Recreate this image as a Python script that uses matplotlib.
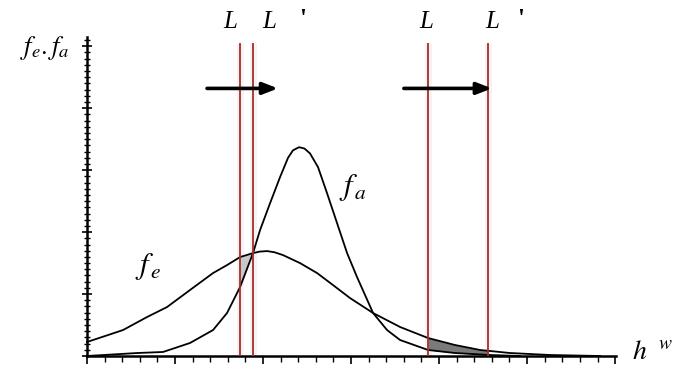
import numpy as np
import matplotlib
matplotlib.use("Agg")
import matplotlib.pyplot as plt

plt.rcParams['mathtext.fontset'] = 'stix'
plt.rcParams['font.family'] = ['Liberation Serif', 'DejaVu Serif']

# ---- data ----
fe_x = [0.0, 0.20, 0.409, 0.682, 0.909, 1.170, 1.432, 1.591, 1.739, 1.886, 1.96, 2.045,
        2.13, 2.227, 2.420, 2.614, 2.795, 2.989, 3.250, 3.557, 3.875, 4.182, 4.466,
        4.807, 5.261, 5.83]
fe_y = [0.226, 0.32, 0.419, 0.629, 0.790, 1.065, 1.339, 1.468, 1.597, 1.661, 1.685, 1.694,
        1.675, 1.629, 1.500, 1.339, 1.145, 0.935, 0.694, 0.468, 0.290, 0.177, 0.097,
        0.048, 0.016, 0.0]

fa_x = [0.0, 0.568, 0.864, 1.170, 1.432, 1.591, 1.739, 1.886, 1.966, 2.080, 2.193,
        2.284, 2.34, 2.409, 2.47, 2.534, 2.625, 2.727, 2.841, 2.955, 3.068, 3.250,
        3.409, 3.557, 3.875, 4.182, 4.580, 4.92]
fa_y = [0.0, 0.048, 0.065, 0.210, 0.419, 0.694, 1.113, 1.661, 2.032, 2.468, 2.887,
        3.200, 3.320, 3.371, 3.350, 3.270, 3.048, 2.629, 2.145, 1.661, 1.274, 0.694,
        0.419, 0.258, 0.097, 0.048, 0.016, 0.0]

L_old = [1.739, 3.875]
L_new = [1.886, 4.557]
arrow_start = [1.364, 3.60]
arrow_end = [2.17, 4.60]
arrow_y = 4.32

fig = plt.figure(figsize=(6.86, 3.73), dpi=100)
ax = fig.add_axes([87/686, 17/373, (616-87)/686, (356-37)/373])
ax.set_xlim(0, 6.01)
ax.set_ylim(0, 5.15)

for s in ['top', 'right']:
    ax.spines[s].set_visible(False)
for s in ['left', 'bottom']:
    ax.spines[s].set_linewidth(1.8)

ax.set_xticks(np.arange(0, 6.01, 1.0))
ax.set_xticks(np.arange(0, 6.01, 0.2), minor=True)
ax.set_yticks(np.arange(0, 5.15, 1.0))
ax.set_yticks(np.arange(0, 5.15, 0.1), minor=True)
ax.set_xticklabels([])
ax.set_yticklabels([])
ax.tick_params(axis='x', which='major', direction='out', length=6, width=1.2)
ax.tick_params(axis='x', which='minor', direction='out', length=4, width=1.0)
ax.tick_params(axis='y', which='major', direction='inout', length=7, width=1.2)
ax.tick_params(axis='y', which='minor', direction='inout', length=5, width=1.0)

# shaded regions between curves
g1 = np.linspace(L_old[0], L_new[0], 30)
ax.fill_between(g1, np.interp(g1, fa_x, fa_y), np.interp(g1, fe_x, fe_y),
                color='#c8c8c8', lw=0, zorder=2)
g2 = np.linspace(L_old[1], L_new[1], 30)
ax.fill_between(g2, np.interp(g2, fa_x, fa_y), np.interp(g2, fe_x, fe_y),
                color='#7a7a7a', lw=0, zorder=2)

# curves
ax.plot(fe_x, fe_y, color='black', lw=1.3, zorder=3, clip_on=False, solid_joinstyle='round')
ax.plot(fa_x, fa_y, color='black', lw=1.3, zorder=3, clip_on=False, solid_joinstyle='round')

# red vertical lines
for xv in L_old + L_new:
    ax.plot([xv, xv], [0, 5.05], color='#f8d8d8', lw=5, alpha=0.35, zorder=1, solid_capstyle='butt')
    ax.plot([xv, xv], [0, 5.05], color='#9e3030', lw=1.3, zorder=4, solid_capstyle='butt')

# arrows
for xs, xe in zip(arrow_start, arrow_end):
    ax.annotate('', xy=(xe, arrow_y), xytext=(xs, arrow_y),
                arrowprops=dict(arrowstyle='-|>,head_length=0.9,head_width=0.35',
                                color='black', lw=2.6, shrinkA=0, shrinkB=0),
                zorder=5)

# labels
lab_kw = dict(fontsize=18, style='italic', ha='center', va='center', clip_on=False)
ax.text(1.625, 5.39, 'L', **lab_kw)
ax.text(2.068, 5.39, 'L', **lab_kw)
ax.text(2.45, 5.43, "'", fontsize=18, fontweight='bold', ha='center', va='center', clip_on=False)
ax.text(3.85, 5.39, 'L', **lab_kw)
ax.text(4.60, 5.39, 'L', **lab_kw)
ax.text(4.93, 5.43, "'", fontsize=18, fontweight='bold', ha='center', va='center', clip_on=False)

ax.text(0.70, 1.45, r'$f_{\,e}$', fontsize=22, ha='center', va='center')
ax.text(3.02, 2.72, r'$f_{\,a}$', fontsize=22, ha='center', va='center')
ax.text(-0.48, 4.98, r'$f_e.f_a$', fontsize=19, ha='center', va='center', clip_on=False)
ax.text(6.42, 0.05, r'$h^{\ \ w}$', fontsize=20, ha='center', va='center', clip_on=False)

fig.savefig('out.png', dpi=100)
